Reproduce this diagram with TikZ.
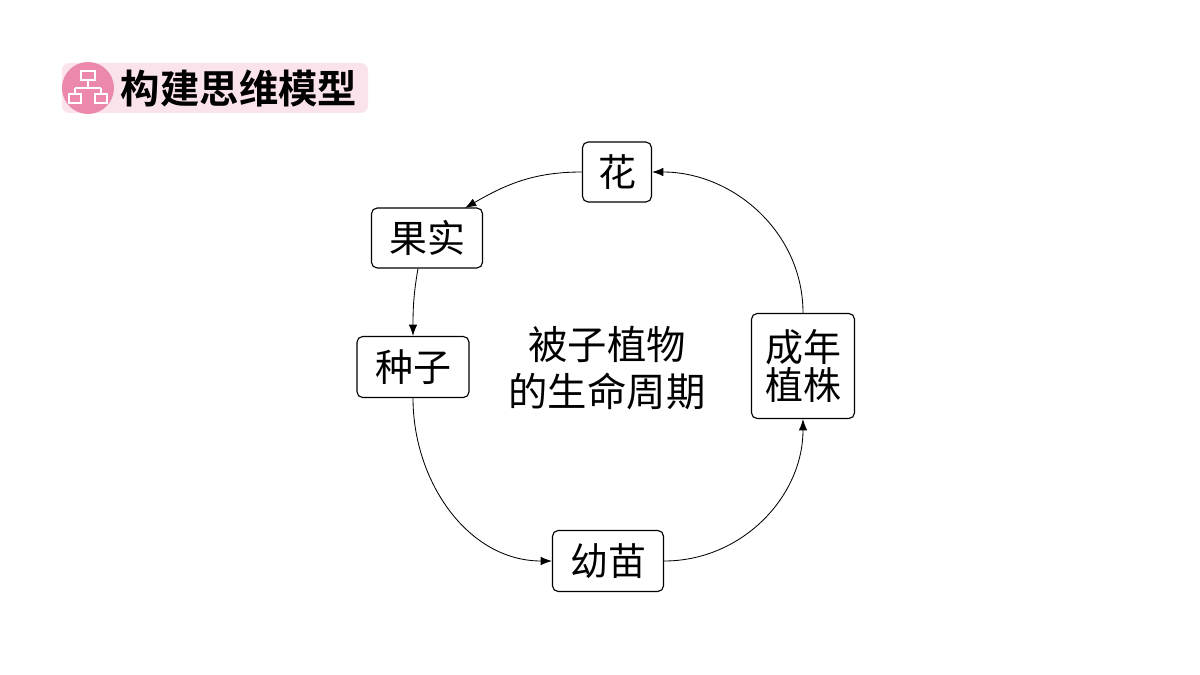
\documentclass[tikz,border=0pt]{standalone}
\usepackage{fontspec}
\newfontfamily\cjk{Noto Sans CJK SC}
\newfontfamily\cjkbold{Noto Sans CJK SC Bold}
\usetikzlibrary{arrows.meta}
\definecolor{headpink}{HTML}{FBE3EC}
\definecolor{iconpink}{HTML}{EC87AE}
\tikzset{
  stage/.style={draw, rounded corners=4pt, line width=0.8pt, font=\cjk\fontsize{27}{31}\selectfont, inner sep=0pt, align=center},
  flow/.style={-{Latex[length=8pt,width=6pt]}, line width=0.6pt}
}
\begin{document}
\begin{tikzpicture}[x=0.025cm, y=-0.025cm]
	\useasboundingbox (0,0) rectangle (1200,675);
	% Kopfzeile
		\fill[headpink, rounded corners=5pt] (62,63) rectangle (368,113);
		\fill[iconpink] (88,88) circle[radius=26];
		\begin{scope}[white, line width=1.6pt]
			\draw (81,71) rectangle (95,80);
			\draw (88,80) -- (88,88) (75,88) -- (101,88) (75,88) -- (75,94) (101,88) -- (101,94);
			\draw (69,94) rectangle (81,103);
			\draw (95,94) rectangle (107,103);
		\end{scope}
		\node[anchor=west, font=\cjkbold\fontsize{28}{32}\selectfont] (title) at (116,89) {构建思维模型};
	% Stadien
		\node[stage, minimum width=69*0.025cm, minimum height=60*0.025cm] (hua) at (617,172) {花};
		\node[stage, minimum width=111*0.025cm, minimum height=60*0.025cm] (guoshi) at (427,238) {果实};
		\node[stage, minimum width=112*0.025cm, minimum height=61*0.025cm] (zhongzi) at (413,367) {种子};
		\node[stage, minimum width=103*0.025cm, minimum height=105*0.025cm] (chengnian) at (803,366) {成年\\[-4pt]植株};
		\node[stage, minimum width=111*0.025cm, minimum height=61*0.025cm] (youmiao) at (608,561) {幼苗};
		\node[font=\cjk\fontsize{28}{33}\selectfont, align=center] (mitte) at (607,368) {被子植物\\的生命周期};
	% Pfeile
		\coordinate (guoshiin) at (465,208);
		\draw[flow] (hua.west) to[out=180, in=30] (guoshiin);
		\draw[flow] (guoshi.south) ++(-9,0) coordinate (guoshiout) to[out=260, in=90] (zhongzi.north);
		\draw[flow] (zhongzi.south) to[out=270, in=180] (youmiao.west);
		\draw[flow] (youmiao.east) to[out=0, in=270] (chengnian.south);
		\draw[flow] (chengnian.north) to[out=90, in=0] (hua.east);
\end{tikzpicture}
\end{document}
